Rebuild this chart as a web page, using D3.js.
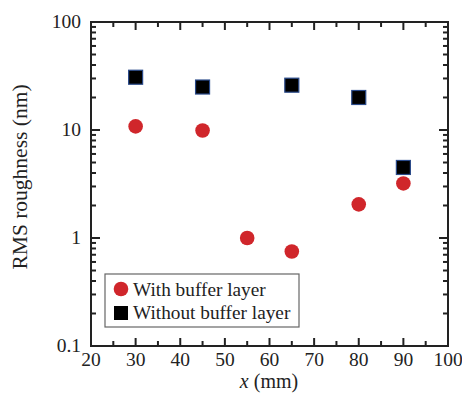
<!DOCTYPE html>
<html><head><meta charset="utf-8">
<script src="https://cdn.jsdelivr.net/npm/d3@7"></script>
<style>
body{margin:0;background:#fff;}
text{font-family:"Liberation Serif","Times New Roman",serif;fill:#222;}
</style></head>
<body><svg id="c" width="462" height="399"></svg>
<script>
const withX = [30, 45, 55, 65, 80, 90];
const withY = [10.8, 9.9, 1.0, 0.75, 2.05, 3.2];
const withoutX = [30, 45, 65, 80, 90];
const withoutY = [30.8, 25, 26, 20, 4.5];
const xTicks = [20, 30, 40, 50, 60, 70, 80, 90, 100];
const yTicks = [0.1, 1, 10, 100];
const seriesNames = ["With buffer layer", "Without buffer layer"];

const svg = d3.select("#c");
const L = 91, R = 448, T = 22, B = 346;
const x = d3.scaleLinear().domain([20, 100]).range([L, R]);
const y = d3.scaleLog().domain([0.1, 100]).range([B, T]);

const xMinor = d3.range(25, 100, 10);
const yMinor = [];
[0.1, 1, 10].forEach(d => { for (let k = 2; k <= 9; k++) yMinor.push(d * k); });

const g = svg.append("g");
const tickStyle = s => s.attr("stroke", "#222").attr("stroke-width", 2);
xTicks.forEach(v => {
  tickStyle(g.append("line").attr("x1", x(v)).attr("x2", x(v)).attr("y1", B).attr("y2", B - 8));
  tickStyle(g.append("line").attr("x1", x(v)).attr("x2", x(v)).attr("y1", T).attr("y2", T + 8));
});
xMinor.forEach(v => {
  tickStyle(g.append("line").attr("x1", x(v)).attr("x2", x(v)).attr("y1", B).attr("y2", B - 5));
  tickStyle(g.append("line").attr("x1", x(v)).attr("x2", x(v)).attr("y1", T).attr("y2", T + 5));
});
yTicks.forEach(v => {
  tickStyle(g.append("line").attr("x1", L).attr("x2", L + 9).attr("y1", y(v)).attr("y2", y(v)));
  tickStyle(g.append("line").attr("x1", R).attr("x2", R - 9).attr("y1", y(v)).attr("y2", y(v)));
});
yMinor.forEach(v => {
  tickStyle(g.append("line").attr("x1", L).attr("x2", L + 5).attr("y1", y(v)).attr("y2", y(v)));
  tickStyle(g.append("line").attr("x1", R).attr("x2", R - 5).attr("y1", y(v)).attr("y2", y(v)));
});
g.append("rect").attr("x", L).attr("y", T).attr("width", R - L).attr("height", B - T)
  .attr("fill", "none").attr("stroke", "#222").attr("stroke-width", 2);

xTicks.forEach(v => {
  svg.append("text").attr("x", x(v)).attr("y", 366).attr("text-anchor", "middle")
    .attr("font-size", 19.5).text(v);
});
yTicks.forEach(v => {
  svg.append("text").attr("x", 81).attr("y", y(v) + 6).attr("text-anchor", "end")
    .attr("font-size", 19.5).text(v);
});

const xl = svg.append("text").attr("x", 269).attr("y", 388).attr("text-anchor", "middle").attr("font-size", 20);
xl.append("tspan").attr("font-style", "italic").text("x");
xl.append("tspan").text(" (mm)");
svg.append("text").attr("transform", "translate(27,177) rotate(-90)").attr("text-anchor", "middle")
  .attr("font-size", 21.5).text("RMS roughness (nm)");

const sq = 14;
svg.append("g").selectAll("rect").data(withoutX.map((d, i) => [d, withoutY[i]])).join("rect")
  .attr("x", d => x(d[0]) - sq / 2).attr("y", d => y(d[1]) - sq / 2)
  .attr("width", sq).attr("height", sq).attr("fill", "#000").attr("stroke", "#2a4a8a").attr("stroke-width", 1.2);
svg.append("g").selectAll("circle").data(withX.map((d, i) => [d, withY[i]])).join("circle")
  .attr("cx", d => x(d[0])).attr("cy", d => y(d[1])).attr("r", 7.3).attr("fill", "#d0262b");

svg.append("rect").attr("x", 105).attr("y", 274).attr("width", 194).attr("height", 53)
  .attr("fill", "#fff").attr("stroke", "#666").attr("stroke-width", 1.2);
svg.append("circle").attr("cx", 121).attr("cy", 289).attr("r", 7.3).attr("fill", "#d0262b");
svg.append("rect").attr("x", 114).attr("y", 306).attr("width", 14).attr("height", 14).attr("fill", "#000");
svg.append("text").attr("x", 133).attr("y", 296).attr("font-size", 19.3).text(seriesNames[0]);
svg.append("text").attr("x", 133).attr("y", 319).attr("font-size", 19.3).text(seriesNames[1]);
</script></body></html>
